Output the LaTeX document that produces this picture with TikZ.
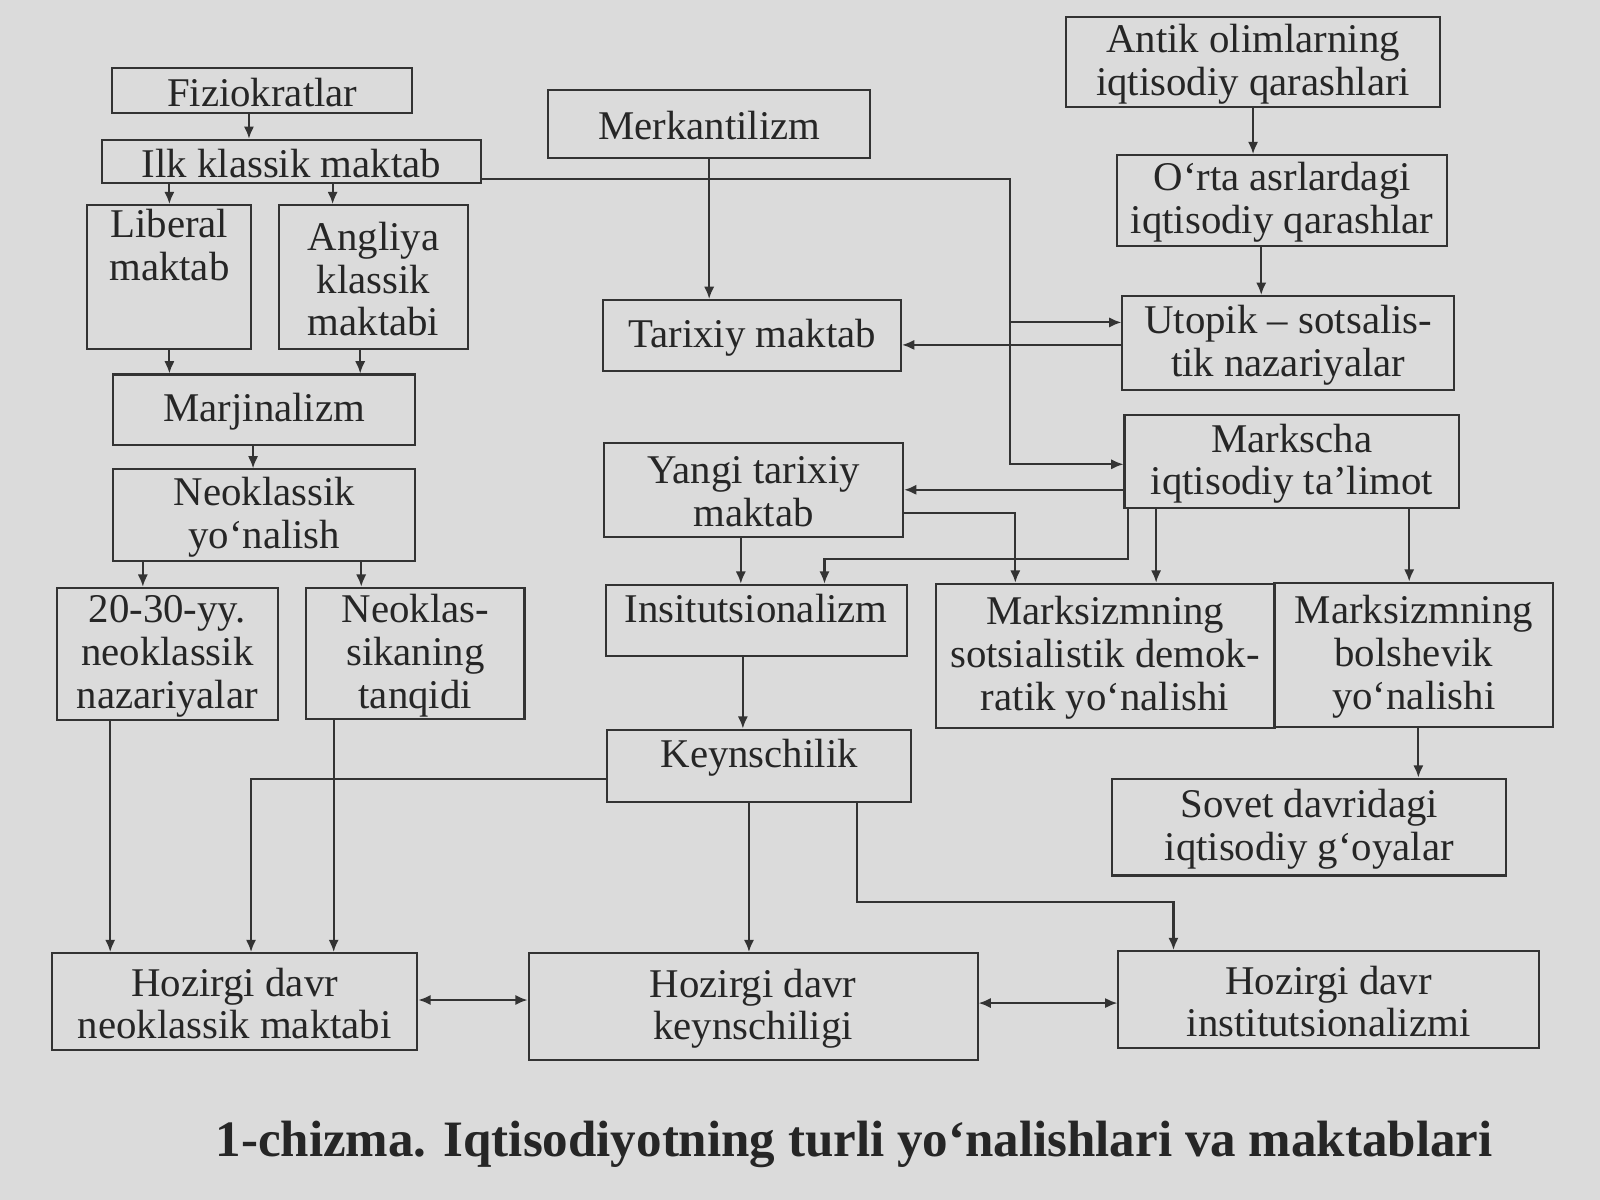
\documentclass[tikz,border=0pt]{standalone}
\usepackage{fontspec}
\setmainfont{Liberation Serif}
\usetikzlibrary{fit,arrows.meta}
\begin{document}
\begin{tikzpicture}[x=0.5pt,y=-0.5pt,
 bx/.style={draw=black!80,line width=1pt,inner sep=0pt},
 tx/.style={inner sep=0pt,align=center,font=\fontsize{20}{21}\selectfont,text=black!85},
 ln/.style={draw=black!80,line width=1pt},
 ar/.style={ln,-{Latex[length=6pt,width=5pt]}},
 da/.style={ln,{Latex[length=6pt,width=5pt]}-{Latex[length=6pt,width=5pt]}}]
\fill[gray!28] (0,0) rectangle (1568,1176);
\useasboundingbox (0,0) rectangle (1568,1176);
\newcommand\bx[6]{\node[bx,fit={(#2,#3)(#4,#5)}] (#1) {}; \node[tx] (#1t) at ([yshift=-1pt]#1.center) {#6};}
\bx{fiz}{110}{67}{404}{111}{Fiziokratlar}
\bx{ilk}{100}{137}{471}{179}{Ilk klassik maktab}
\bx{lib}{85}{201}{246}{342}{}
\node[tx,anchor=north] (libt) at (166,205) {Liberal\\maktab};
\bx{ang}{273}{201}{459}{342}{Angliya\\klassik\\maktabi}
\bx{mar}{111}{367}{407}{436}{Marjinalizm}
\bx{neo}{111}{460}{407}{550}{Neoklassik\\yo‘nalish}
\bx{yy}{56}{576}{272}{706}{20-30-yy.\\neoklassik\\nazariyalar}
\bx{tan}{300}{576}{514}{705}{Neoklas-\\sikaning\\tanqidi}
\bx{mer}{537}{88}{853}{155}{Merkantilizm}
\bx{ant}{1045}{17}{1411}{105}{Antik olimlarning\\iqtisodiy qarashlari}
\bx{ort}{1095}{152}{1418}{241}{O‘rta asrlardagi\\iqtisodiy qarashlar}
\bx{tar}{591}{294}{883}{364}{Tarixiy maktab}
\bx{uto}{1100}{290}{1425}{382}{Utopik -- sotsalis-\\tik nazariyalar}
\bx{mrk}{1102}{407}{1430}{498}{Markscha\\iqtisodiy ta’limot}
\bx{yan}{592}{434}{885}{526}{Yangi tarixiy\\maktab}
\bx{ins}{594}{573}{889}{643}{}
\node[tx,anchor=north] (inst) at (741,582) {Insitutsionalizm};
\bx{sd}{917}{572}{1249}{713}{Marksizmning\\sotsialistik demok-\\ratik yo‘nalishi}
\bx{bol}{1249}{571}{1522}{712}{Marksizmning\\bolshevik\\yo‘nalishi}
\bx{sov}{1090}{763}{1476}{858}{Sovet davridagi\\iqtisodiy g‘oyalar}
\bx{key}{595}{715}{893}{786}{}
\node[tx,anchor=north] (keyt) at (744,724) {Keynschilik};
\bx{hn}{51}{934}{409}{1029}{Hozirgi davr\\neoklassik maktabi}
\bx{hk}{518}{934}{958}{1039}{Hozirgi davr\\keynschiligi}
\bx{hi}{1096}{932}{1508}{1027}{Hozirgi davr\\institutsionalizmi}
\node[font=\bfseries\fontsize{25}{28}\selectfont,text=black!85] (cap) at (837,1122) {1-chizma. Iqtisodiyotning turli yo‘nalishlari va maktablari};
% connectors
\draw[ar] (fiz.south -| 244,0) -- (ilk.north -| 244,0);
\draw[ar] (ilk.south -| 166,0) -- (lib.north -| 166,0);
\draw[ar] (ilk.south -| 326,0) -- (ang.north -| 326,0);
\coordinate (c1) at (990,175); \coordinate (c2) at (990,316);
\draw[ar] (ilk.east |- c1) -- (c1) -- (990,455) -- (mrk.west |- 0,455);
\draw[ar] (c2) -- (uto.west |- c2);
\draw[ar] (ant.south -| 1228,0) -- (ort.north -| 1228,0);
\draw[ar] (ort.south -| 1236,0) -- (uto.north -| 1236,0);
\draw[ar] (mer.south -| 695,0) -- (tar.north -| 695,0);
\draw[ar] (uto.west |- 0,338) -- (tar.east |- 0,338);
\draw[ar] (lib.south -| 166,0) -- (mar.north -| 166,0);
\draw[ar] (ang.south -| 353,0) -- (mar.north -| 353,0);
\draw[ar] (mar.south -| 248,0) -- (neo.north -| 248,0);
\draw[ar] (neo.south -| 140,0) -- (yy.north -| 140,0);
\draw[ar] (neo.south -| 354,0) -- (tan.north -| 354,0);
\draw[ar] (mrk.west |- 0,480) -- (yan.east |- 0,480);
\draw[ar] (yan.south -| 726,0) -- (ins.north -| 726,0);
\draw[ar] (yan.east |- 0,503) -- (995,503) -- (sd.north -| 995,0);
\draw[ar] (mrk.south -| 1105,0) -- (1105,548) -- (808,548) -- (ins.north -| 808,0);
\draw[ar] (mrk.south -| 1133,0) -- (sd.north -| 1133,0);
\draw[ar] (mrk.south -| 1381,0) -- (bol.north -| 1381,0);
\draw[ar] (bol.south -| 1390,0) -- (sov.north -| 1390,0);
\draw[ar] (ins.south -| 728,0) -- (key.north -| 728,0);
\draw[ar] (key.west |- 0,763) -- (246,763) -- (hn.north -| 246,0);
\draw[ar] (yy.south -| 108,0) -- (hn.north -| 108,0);
\draw[ar] (tan.south -| 327,0) -- (hn.north -| 327,0);
\draw[ar] (key.south -| 734,0) -- (hk.north -| 734,0);
\draw[ar] (key.south -| 840,0) -- (840,884) -- (1150,884) -- (hi.north -| 1150,0);
\draw[da] (hn.east |- 0,980) -- (hk.west |- 0,980);
\draw[da] (hk.east |- 0,983) -- (hi.west |- 0,983);
\end{tikzpicture}
\end{document}
